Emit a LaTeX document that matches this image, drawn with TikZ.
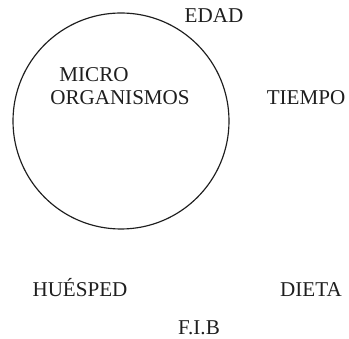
\documentclass[tikz,border=0pt]{standalone}
\usepackage{fontspec}
\setmainfont{Liberation Serif}
\usepackage{tikz}
\usetikzlibrary{positioning}
\definecolor{inkgray}{RGB}{30, 30, 30}

\begin{document}
\begin{tikzpicture}[
  factor/.style={font=\fontsize{18}{21}\selectfont, text=inkgray, inner sep=0pt, anchor=base},
  ring/.style={draw=inkgray, line width=1pt},
]
  % Frame
  \useasboundingbox (0,0) rectangle (10.47,10.17);

  % Circle of the microorganisms
  \draw[ring] (3.63,6.54) circle (3.24);

  % Labels
  \node[factor] (micro) at (2.82,7.71) {MICRO};
  \node[factor] (organismos) at (3.60,7.02) {ORGANISMOS};
  \node[factor] (edad) at (6.42,9.48) {EDAD};
  \node[factor] (tiempo) at (9.18,7.02) {TIEMPO};
  \node[factor] (huesped) at (2.40,1.26) {HUÉSPED};
  \node[factor] (dieta) at (9.33,1.26) {DIETA};
  \node[factor] (fib) at (5.97,0.12) {F.I.B};

\end{tikzpicture}
\end{document}
